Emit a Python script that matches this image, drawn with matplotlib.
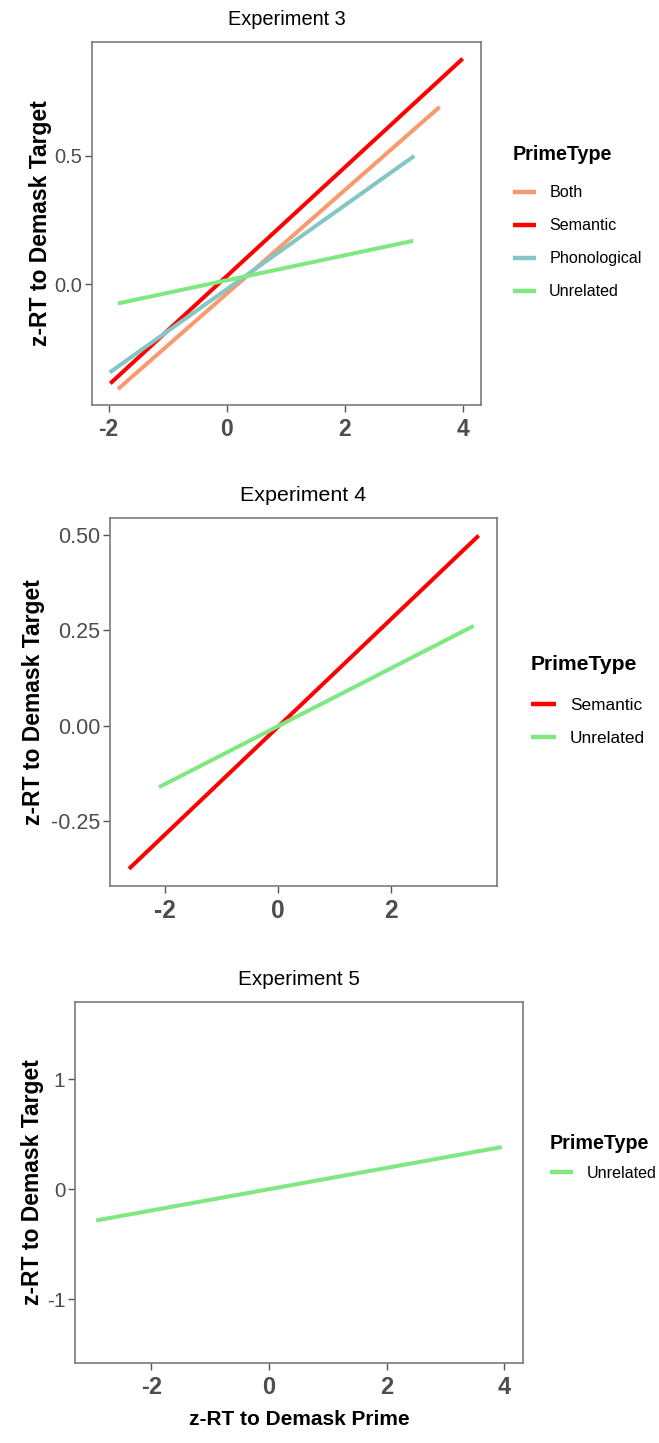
import matplotlib
matplotlib.use("Agg")
import matplotlib.pyplot as plt
from matplotlib import font_manager

# fitted regression lines: z-RT to demask prime (x) vs z-RT to demask target (y)
exp3_types = ["Both", "Semantic", "Phonological", "Unrelated"]
exp3_x0 = [-1.84, -1.97, -1.98, -1.84]
exp3_x1 = [3.61, 4.00, 3.18, 3.16]
exp3_y0 = [-0.409, -0.387, -0.344, -0.075]
exp3_y1 = [0.691, 0.879, 0.500, 0.169]

exp4_types = ["Semantic", "Unrelated"]
exp4_x0 = [-2.64, -2.11]
exp4_x1 = [3.56, 3.47]
exp4_y0 = [-0.375, -0.161]
exp4_y1 = [0.499, 0.262]

exp5_types = ["Unrelated"]
exp5_x0 = [-2.94]
exp5_x1 = [3.96]
exp5_y0 = [-0.285]
exp5_y1 = [0.382]

COLORS = {"Both": "#F99A6E", "Semantic": "#FF0000",
          "Phonological": "#84C5C5", "Unrelated": "#80E880"}

available = {f.name for f in font_manager.fontManager.ttflist}
FONT = "Liberation Sans" if "Liberation Sans" in available else "DejaVu Sans"

W, H = 659, 1443
fig = plt.figure(figsize=(W / 100, H / 100), dpi=100)


def px_axes(left, top, right, bottom):
    ax = fig.add_axes([left / W, 1 - bottom / H, (right - left) / W, (bottom - top) / H])
    ax._px = (left, right)
    return ax


def draw_panel(ax, title, types, x0, x1, y0, y1, xlim, ylim, yticks, yfmt,
               ylab_x, leg_x, leg_y, leg_sep, title_sep, s=1.0, ls=1.0, xlabel=None):
    for t, a, b, c, d in zip(types, x0, x1, y0, y1):
        ax.plot([a, b], [c, d], color=COLORS[t], lw=2.9, solid_capstyle="butt", label=t)
    ax.set_xlim(*xlim)
    ax.set_ylim(*ylim)
    ax.set_yticks(yticks)
    ax.set_yticklabels([yfmt.format(v) for v in yticks], family=FONT, fontsize=14.5 * s, color="#4d4d4d")
    xt = [v for v in [-2, 0, 2, 4] if xlim[0] < v < xlim[1]]
    ax.set_xticks(xt)
    ax.set_xticklabels([str(v) for v in xt], family=FONT, fontsize=16.5 * s,
                       fontweight="bold", color="#4d4d4d")
    ax.tick_params(length=5, width=1.0, color="#555555", pad=2)
    ax.tick_params(axis="x", pad=4)
    for sp in ax.spines.values():
        sp.set_color("#7a7a7a")
        sp.set_linewidth(1.2)
    ax.set_title(title, family=FONT, fontsize=14.4 * s, pad=12)
    ax.set_ylabel("z-RT to Demask Target", family=FONT, fontsize=16.5, fontweight="bold")
    left, right = ax._px
    ax.yaxis.set_label_coords((ylab_x - left) / (right - left), 0.5)
    ax.yaxis.label.set_verticalalignment("center")
    if xlabel:
        ax.set_xlabel(xlabel, family=FONT, fontsize=15, fontweight="bold", labelpad=8)
    leg = ax.legend(loc="upper left", bbox_to_anchor=(leg_x / W, 1 - leg_y / H),
                    bbox_transform=fig.transFigure, frameon=False, title="PrimeType",
                    prop={"family": FONT, "size": 11.6 * ls}, handlelength=1.45,
                    handletextpad=0.8, labelspacing=leg_sep, borderpad=0, borderaxespad=0)
    leg.get_title().set_fontproperties(font_manager.FontProperties(family=FONT, size=14.2 * ls, weight="bold"))
    leg._legend_box.align = "left"
    leg._legend_box.sep = title_sep
    for line in leg.get_lines():
        line.set_linewidth(3.2)


ax1 = px_axes(92, 42, 481, 405)
draw_panel(ax1, "Experiment 3", exp3_types, exp3_x0, exp3_x1, exp3_y0, exp3_y1,
           (-2.28, 4.31), (-0.471, 0.944), [0.0, 0.5], "{:.1f}", 40, 513, 145, 1.12, 15.3)

ax2 = px_axes(110, 518, 497, 886)
draw_panel(ax2, "Experiment 4", exp4_types, exp4_x0, exp4_x1, exp4_y0, exp4_y1,
           (-2.977, 3.884), (-0.42, 0.545), [-0.25, 0.0, 0.25, 0.5], "{:.2f}", 34, 531, 655, 1.07, 16.9,
           s=1.07, ls=1.07)

ax3 = px_axes(75, 1002, 523, 1363)
draw_panel(ax3, "Experiment 5", exp5_types, exp5_x0, exp5_x1, exp5_y0, exp5_y1,
           (-3.30, 4.32), (-1.58, 1.70), [-1, 0, 1], "{:d}", 33, 550, 1134, 0.6, 9.4,
           s=1.03, ls=1.0, xlabel="z-RT to Demask Prime")

fig.savefig("out.png", dpi=100)
